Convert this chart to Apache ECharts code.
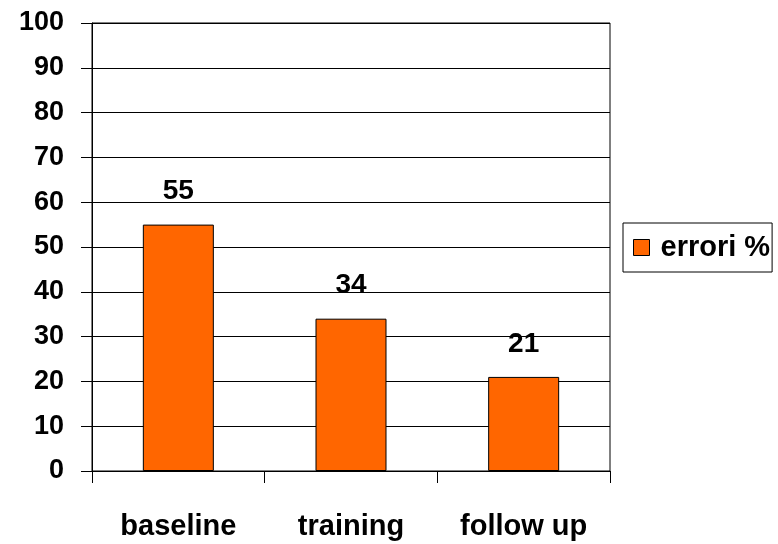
<!DOCTYPE html>
<html><head><meta charset="utf-8">
<script src="https://cdn.jsdelivr.net/npm/echarts@6/dist/echarts.min.js"></script>
<style>html,body{margin:0;padding:0;background:#fff}#c{width:778px;height:544px}</style>
</head><body><div id="c"></div>
<script>
const categories = ['baseline', 'training', 'follow up'];
const values = [55, 34, 21];
const seriesName = 'errori %';
const yTicks = [0, 10, 20, 30, 40, 50, 60, 70, 80, 90, 100];

const FONT = '"Liberation Sans", Arial, sans-serif';
const chart = echarts.init(document.getElementById('c'), null, {renderer: 'canvas'});
chart.setOption({
  animation: false,
  backgroundColor: '#fff',
  grid: {left: 92, right: 168, top: 23, bottom: 73, show: true, borderColor: '#000', borderWidth: 1, backgroundColor: 'transparent'},
  legend: {
    show: true, left: 623, top: 223, orient: 'vertical',
    data: [seriesName],
    borderColor: '#000', borderWidth: 1, padding: [10, 2, 10, 10],
    itemWidth: 16, itemHeight: 16, itemGap: 0,
    icon: 'rect',
    itemStyle: {borderColor: '#000', borderWidth: 1},
    textStyle: {fontFamily: FONT, fontWeight: 'bold', fontSize: 29, color: '#000', padding: [0, 0, 0, 6]}
  },
  xAxis: {
    type: 'category', data: categories,
    axisLine: {lineStyle: {color: '#000', width: 1}},
    axisTick: {show: true, length: 12, lineStyle: {color: '#000'}},
    axisLabel: {interval: 0, margin: 41, fontFamily: FONT, fontWeight: 'bold', fontSize: 29, color: '#000'}
  },
  yAxis: {
    type: 'value', min: yTicks[0], max: yTicks[yTicks.length - 1], interval: 10,
    axisLine: {show: true, lineStyle: {color: '#000', width: 1}},
    axisTick: {show: true, length: 11, lineStyle: {color: '#000'}},
    splitLine: {show: true, lineStyle: {color: '#000', width: 1}},
    axisLabel: {margin: 28, fontFamily: FONT, fontWeight: 'bold', fontSize: 27, color: '#000'}
  },
  series: [{
    name: seriesName, type: 'bar', data: values, barWidth: 71,
    itemStyle: {color: '#FF6600', borderColor: '#000', borderWidth: 1},
    label: {show: true, position: 'top', distance: 19, fontFamily: FONT, fontWeight: 'bold', fontSize: 28, color: '#000'}
  }]
});
</script></body></html>
